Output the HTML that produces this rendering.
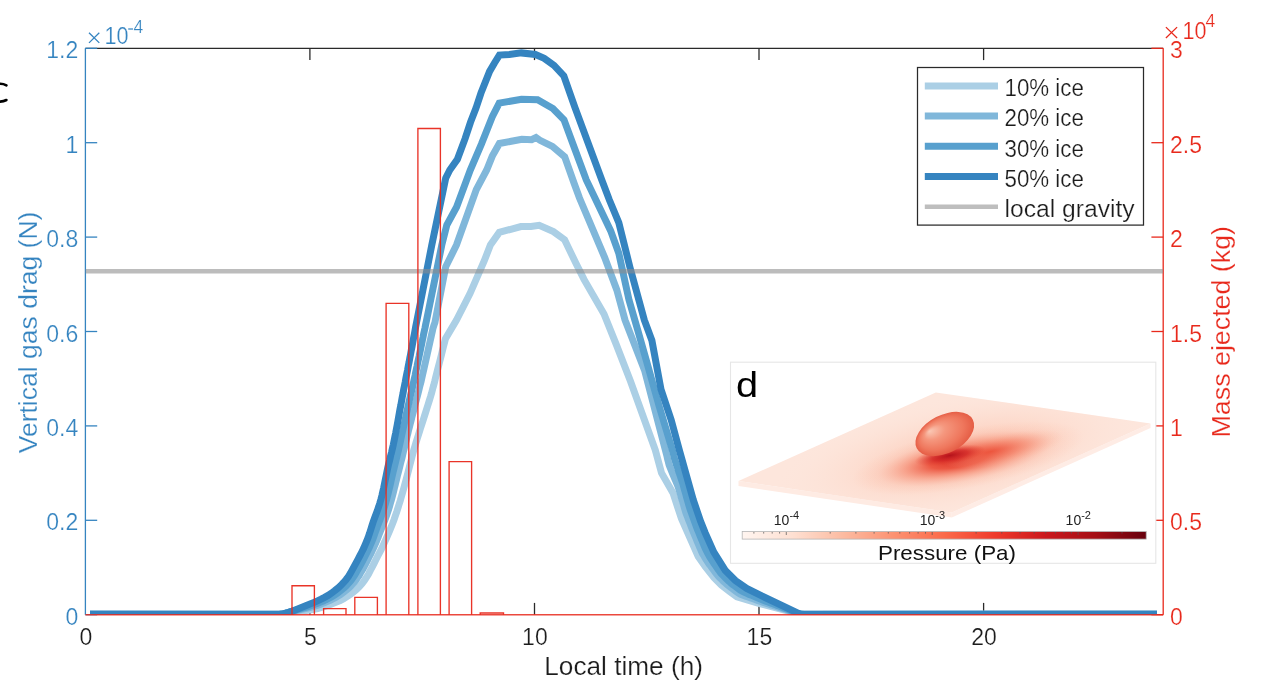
<!DOCTYPE html>
<html><head><meta charset="utf-8"><style>
html,body{margin:0;padding:0;background:#fff;width:1262px;height:688px;overflow:hidden;}
svg text{font-family:"Liberation Sans", sans-serif;}
.t{stroke:#fff;stroke-width:0.22px;}
</style></head><body>
<svg width="1262" height="688" viewBox="0 0 1262 688" style="position:absolute;left:0;top:0;will-change:transform">
<defs><clipPath id="pc"><rect x="85.4" y="48.3" width="1077.8" height="566.4"/></clipPath>
<linearGradient id="cb" x1="0" x2="1" y1="0" y2="0">
<stop offset="0" stop-color="#fff5f0"/><stop offset="0.125" stop-color="#fee0d2"/><stop offset="0.25" stop-color="#fcbba1"/>
<stop offset="0.375" stop-color="#fc9272"/><stop offset="0.5" stop-color="#fb6a4a"/><stop offset="0.625" stop-color="#ef3b2c"/>
<stop offset="0.75" stop-color="#cb181d"/><stop offset="0.875" stop-color="#a50f15"/><stop offset="1" stop-color="#67000d"/></linearGradient>
<radialGradient id="halo" cx="0.5" cy="0.5" r="0.5">
<stop offset="0" stop-color="#fbb59b" stop-opacity="0.7"/><stop offset="0.5" stop-color="#fcc8b4" stop-opacity="0.35"/><stop offset="1" stop-color="#fde6dc" stop-opacity="0"/></radialGradient>
<radialGradient id="shadow" cx="0.5" cy="0.5" r="0.5" fx="0.45" fy="0.5">
<stop offset="0" stop-color="#dc3026" stop-opacity="1"/><stop offset="0.25" stop-color="#ea4b36" stop-opacity="0.9"/>
<stop offset="0.5" stop-color="#f47d62" stop-opacity="0.55"/><stop offset="0.75" stop-color="#f9a890" stop-opacity="0.2"/><stop offset="1" stop-color="#fcbba1" stop-opacity="0"/></radialGradient>
<radialGradient id="ext" cx="0.5" cy="0.5" r="0.5" fx="0.4" fy="0.5">
<stop offset="0" stop-color="#ec5038" stop-opacity="0.75"/><stop offset="0.5" stop-color="#f47d62" stop-opacity="0.4"/><stop offset="1" stop-color="#fbb59b" stop-opacity="0"/></radialGradient>
<radialGradient id="core" cx="0.5" cy="0.5" r="0.5">
<stop offset="0" stop-color="#b5121b" stop-opacity="1"/><stop offset="0.5" stop-color="#cf1f21" stop-opacity="0.7"/><stop offset="1" stop-color="#e3402e" stop-opacity="0"/></radialGradient>
<radialGradient id="ell" cx="0.5" cy="0.5" r="0.5" fx="0.3" fy="0.25">
<stop offset="0" stop-color="#fac8b5"/><stop offset="0.35" stop-color="#f5977e"/><stop offset="0.75" stop-color="#ef775d"/><stop offset="1" stop-color="#e55d45"/></radialGradient>
<clipPath id="planeclip"><polygon points="738.5,481 935.8,392.5 1150.5,423.5 951.8,512.5"/></clipPath>
</defs>
<line x1="85.4" x2="1163.2" y1="48.3" y2="48.3" stroke="#2a2a2a" stroke-width="1.3"/>
<line x1="85.4" x2="85.4" y1="48.3" y2="614.7" stroke="#3584c0" stroke-width="1.3"/>
<line x1="1163.2" x2="1163.2" y1="48.3" y2="614.7" stroke="#e8291c" stroke-width="1.3"/>
<line x1="309.9" x2="309.9" y1="614.7" y2="602.9000000000001" stroke="#2a2a2a" stroke-width="1.3"/>
<line x1="309.9" x2="309.9" y1="48.3" y2="60.099999999999994" stroke="#2a2a2a" stroke-width="1.3"/>
<line x1="534.5" x2="534.5" y1="614.7" y2="602.9000000000001" stroke="#2a2a2a" stroke-width="1.3"/>
<line x1="534.5" x2="534.5" y1="48.3" y2="60.099999999999994" stroke="#2a2a2a" stroke-width="1.3"/>
<line x1="759.0" x2="759.0" y1="614.7" y2="602.9000000000001" stroke="#2a2a2a" stroke-width="1.3"/>
<line x1="759.0" x2="759.0" y1="48.3" y2="60.099999999999994" stroke="#2a2a2a" stroke-width="1.3"/>
<line x1="983.6" x2="983.6" y1="614.7" y2="602.9000000000001" stroke="#2a2a2a" stroke-width="1.3"/>
<line x1="983.6" x2="983.6" y1="48.3" y2="60.099999999999994" stroke="#2a2a2a" stroke-width="1.3"/>
<line x1="85.4" x2="97.2" y1="614.7" y2="614.7" stroke="#3584c0" stroke-width="1.3"/>
<line x1="1151.4" x2="1163.2" y1="614.7" y2="614.7" stroke="#e8291c" stroke-width="1.3"/>
<line x1="85.4" x2="97.2" y1="520.3" y2="520.3" stroke="#3584c0" stroke-width="1.3"/>
<line x1="1151.4" x2="1163.2" y1="520.3" y2="520.3" stroke="#e8291c" stroke-width="1.3"/>
<line x1="85.4" x2="97.2" y1="425.9" y2="425.9" stroke="#3584c0" stroke-width="1.3"/>
<line x1="1151.4" x2="1163.2" y1="425.9" y2="425.9" stroke="#e8291c" stroke-width="1.3"/>
<line x1="85.4" x2="97.2" y1="331.5" y2="331.5" stroke="#3584c0" stroke-width="1.3"/>
<line x1="1151.4" x2="1163.2" y1="331.5" y2="331.5" stroke="#e8291c" stroke-width="1.3"/>
<line x1="85.4" x2="97.2" y1="237.1" y2="237.1" stroke="#3584c0" stroke-width="1.3"/>
<line x1="1151.4" x2="1163.2" y1="237.1" y2="237.1" stroke="#e8291c" stroke-width="1.3"/>
<line x1="85.4" x2="97.2" y1="142.7" y2="142.7" stroke="#3584c0" stroke-width="1.3"/>
<line x1="1151.4" x2="1163.2" y1="142.7" y2="142.7" stroke="#e8291c" stroke-width="1.3"/>
<line x1="85.4" x2="97.2" y1="48.3" y2="48.3" stroke="#3584c0" stroke-width="1.3"/>
<line x1="1151.4" x2="1163.2" y1="48.3" y2="48.3" stroke="#e8291c" stroke-width="1.3"/>
<g clip-path="url(#pc)" fill="none" stroke-linejoin="miter" stroke-linecap="butt">
<polyline points="90.0,614.3 282.0,614.3 293.9,611.2 297.9,611.1 301.9,610.8 305.9,610.5 309.9,610.0 313.8,609.4 317.7,608.5 321.5,607.4 325.3,606.2 329.1,604.9 332.8,603.5 336.5,602.1 340.2,600.5 343.7,598.6 347.0,596.6 350.3,594.3 353.5,591.9 356.6,589.4 359.4,586.6 362.1,583.6 364.4,580.5 366.6,577.2 368.7,573.7 370.5,570.2 372.4,566.7 374.2,563.1 376.0,559.5 377.8,556.0 379.7,552.4 381.5,548.9 383.2,545.2 384.9,541.6 386.5,538.0 388.1,534.3 389.7,530.6 391.2,526.9 392.7,523.2 394.1,519.5 395.4,515.7 396.7,511.9 397.9,508.1 399.1,504.3 400.3,500.5 401.4,496.6 402.5,492.8 403.6,488.9 404.6,485.1 405.7,481.2 406.7,477.4 407.7,473.5 408.7,469.6 409.7,465.7 410.7,461.9 411.7,458.0 412.7,454.1 413.7,450.3 414.9,446.4 416.0,442.6 417.2,438.8 418.4,435.0 419.6,431.1 420.8,427.3 422.1,423.5 423.3,419.7 424.5,415.9 425.7,412.1 426.9,408.3 428.1,404.5 429.3,400.6 430.5,396.8 431.6,393.0 432.6,389.1 433.7,385.3 434.7,381.4 435.6,377.5 436.6,373.6 437.6,369.7 438.6,365.9 439.6,362.0 440.6,358.1 441.6,354.2 442.5,350.4 443.5,346.5 444.5,342.6 445.5,338.7 456.5,320.0 470.0,293.6 484.2,261.0 490.4,245.0 499.3,232.4 520.9,226.5 531.0,226.5 539.2,225.4 553.4,231.6 564.6,239.7 575.8,263.1 584.0,279.4 604.0,314.0 616.3,344.6 630.5,381.2 655.3,450.0 661.5,473.0 673.0,493.0 681.4,518.6 689.6,537.1 698.2,556.5 705.5,567.0 714.0,577.7 721.4,585.0 729.9,591.7 736.9,596.8 759.6,603.6 786.5,610.5 796.0,614.3 1157.0,614.3" stroke="#abcfe5" stroke-width="7"/>
<polyline points="90.0,614.3 279.3,614.3 282.8,614.0 285.9,613.2 288.9,612.4 291.8,611.5 294.9,610.8 298.1,610.2 301.3,609.5 304.5,608.9 307.6,608.2 310.6,607.4 313.6,606.5 316.5,605.6 319.4,604.7 322.1,603.6 324.9,602.5 327.6,601.4 330.2,600.2 332.8,599.0 335.3,597.6 337.7,596.2 340.1,594.8 342.3,593.2 344.5,591.5 346.6,589.8 348.6,588.1 350.6,586.2 352.5,584.2 354.3,582.2 355.9,580.1 357.5,577.8 359.1,575.5 360.5,573.1 361.9,570.7 363.3,568.3 364.6,565.8 365.9,563.3 367.2,560.8 368.5,558.2 369.8,555.7 371.1,553.1 372.3,550.6 373.5,548.0 374.7,545.3 375.9,542.6 377.0,539.9 378.1,537.2 379.1,534.4 380.2,531.7 381.3,528.9 382.4,526.2 383.5,523.5 384.6,520.7 385.6,518.0 386.6,515.2 387.6,512.3 388.6,509.4 389.5,506.5 390.3,503.6 391.2,500.6 392.0,497.6 392.8,494.6 393.6,491.5 394.3,488.4 395.1,485.4 395.8,482.3 396.6,479.2 397.3,476.2 398.1,473.1 398.9,470.1 399.7,467.0 400.4,464.0 401.2,460.9 402.0,457.8 402.7,454.8 403.4,451.7 404.2,448.6 404.9,445.5 405.6,442.4 406.4,439.3 407.1,436.2 407.9,433.2 408.6,430.1 409.4,427.1 410.2,424.0 411.0,421.0 411.7,417.9 412.5,414.9 413.3,411.8 414.1,408.8 414.8,405.7 415.6,402.7 416.4,399.7 417.2,396.6 418.0,393.6 418.8,390.5 419.5,387.5 420.3,384.4 421.1,381.3 421.8,378.3 422.5,375.1 423.2,372.0 423.9,368.9 424.6,365.8 425.3,362.7 426.0,359.5 426.7,356.4 427.4,353.3 428.1,350.2 428.8,347.0 429.5,343.9 430.2,340.8 430.9,337.7 431.6,334.5 432.3,331.4 433.0,328.3 433.9,325.4 434.9,322.6 445.7,266.8 456.5,245.0 476.3,189.6 486.7,170.0 492.3,156.1 499.4,143.5 521.8,139.2 531.6,139.7 536.0,137.5 540.0,140.3 552.4,146.4 564.7,156.9 574.0,183.0 579.5,198.0 604.6,257.3 616.8,289.9 625.0,320.0 644.8,371.0 665.4,450.0 666.4,454.0 667.1,456.7 667.7,459.5 668.4,462.2 669.1,464.9 670.1,467.4 671.0,469.8 672.0,472.2 673.0,474.6 674.0,477.0 675.0,479.4 676.1,481.8 677.1,484.2 678.1,486.6 678.9,489.1 679.7,491.8 680.5,494.4 681.2,497.0 682.0,499.7 682.8,502.3 683.6,504.9 684.3,507.6 685.1,510.2 685.9,512.8 686.8,515.3 687.8,517.7 688.7,520.2 689.7,522.6 690.6,525.1 691.6,527.6 692.5,530.0 693.5,532.4 694.5,534.8 695.5,537.2 696.5,539.7 697.5,542.1 698.5,544.5 699.5,546.9 700.5,549.2 701.5,551.6 702.7,553.9 704.0,556.0 705.2,558.1 706.6,560.2 707.9,562.3 709.3,564.3 710.8,566.2 712.2,568.2 713.7,570.2 715.1,572.1 716.6,574.1 718.1,575.9 719.8,577.7 721.5,579.4 723.2,581.1 725.0,582.7 726.8,584.3 728.6,585.8 730.5,587.3 732.5,588.8 734.4,590.2 736.4,591.7 738.4,593.1 740.5,594.3 743.0,595.2 745.5,596.1 748.1,597.0 750.6,597.9 753.1,598.8 755.6,599.7 758.1,600.6 760.6,601.5 763.2,602.4 765.8,603.2 768.3,604.0 770.9,604.8 773.5,605.6 776.1,606.5 778.7,607.3 781.3,608.1 783.9,608.9 786.4,609.7 788.9,610.7 791.3,611.7 793.7,612.7 801.0,614.3 1157.0,614.3" stroke="#80b7da" stroke-width="7"/>
<polyline points="90.0,614.3 279.3,614.3 282.7,613.9 285.8,613.2 288.8,612.3 291.7,611.4 294.6,610.5 297.7,609.7 300.6,608.9 303.6,608.0 306.5,607.1 309.4,606.2 312.3,605.2 315.1,604.2 317.9,603.2 320.6,602.1 323.3,601.0 325.9,599.7 328.5,598.5 331.0,597.1 333.4,595.7 335.7,594.2 338.0,592.7 340.1,591.0 342.2,589.3 344.3,587.5 346.3,585.7 348.1,583.7 349.9,581.7 351.6,579.6 353.2,577.3 354.7,575.0 356.2,572.6 357.5,570.2 358.9,567.7 360.3,565.3 361.6,562.8 362.9,560.3 364.2,557.8 365.5,555.2 366.8,552.7 368.0,550.1 369.3,547.5 370.4,544.9 371.6,542.2 372.7,539.4 373.7,536.7 374.7,533.8 375.7,531.0 376.7,528.2 377.7,525.4 378.8,522.6 379.9,519.9 380.9,517.1 382.0,514.3 383.0,511.5 383.9,508.6 384.8,505.7 385.7,502.8 386.5,499.8 387.3,496.7 388.1,493.7 388.8,490.6 389.6,487.5 390.3,484.4 391.0,481.2 391.7,478.1 392.4,475.0 393.1,471.9 393.9,468.9 394.6,465.8 395.4,462.7 396.1,459.7 396.9,456.6 397.6,453.5 398.4,450.4 399.1,447.3 399.8,444.2 400.5,441.1 401.1,437.9 401.8,434.8 402.5,431.6 403.2,428.5 403.9,425.3 404.6,422.2 405.3,419.1 405.9,415.9 406.6,412.8 407.3,409.7 408.0,406.6 408.7,403.4 409.4,400.3 410.1,397.2 410.8,394.1 411.6,391.0 412.3,387.9 413.0,384.7 413.7,381.6 414.4,378.5 415.1,375.4 415.7,372.2 416.4,369.1 417.1,365.9 417.7,362.7 418.4,359.6 419.1,356.4 419.7,353.2 420.4,350.1 421.0,346.9 421.7,343.7 422.3,340.6 423.0,337.4 423.6,334.2 424.3,331.1 425.0,327.9 425.6,324.8 426.3,321.6 441.8,245.0 446.8,225.1 456.6,207.0 470.3,170.0 481.4,144.1 492.3,116.8 499.2,103.1 521.5,99.3 537.6,99.8 552.9,108.5 564.0,119.8 574.9,149.3 586.3,180.0 610.7,230.9 618.8,253.3 629.0,300.0 637.7,330.0 646.2,360.0 659.0,405.6 672.3,450.0 673.4,454.0 674.0,456.6 674.7,459.3 675.5,461.8 676.3,464.3 677.2,466.8 678.0,469.3 678.8,471.8 679.7,474.3 680.5,476.8 681.3,479.2 682.2,481.7 683.0,484.2 683.7,486.9 684.4,489.5 685.2,492.1 685.9,494.7 686.6,497.3 687.3,499.9 688.1,502.5 688.8,505.0 689.6,507.6 690.4,510.1 691.3,512.5 692.2,515.0 693.0,517.4 693.9,519.9 694.8,522.3 695.7,524.8 696.6,527.2 697.5,529.6 698.5,532.0 699.4,534.3 700.4,536.7 701.4,539.0 702.4,541.4 703.3,543.7 704.3,546.1 705.3,548.4 706.4,550.6 707.5,552.8 708.7,555.0 709.9,557.2 711.1,559.2 712.5,561.2 713.8,563.2 715.2,565.1 716.5,567.1 717.9,569.1 719.3,571.0 720.7,573.0 722.2,574.7 723.9,576.4 725.5,578.1 727.2,579.7 729.0,581.3 730.7,582.9 732.5,584.4 734.4,585.8 736.3,587.2 738.3,588.6 740.2,590.0 742.2,591.3 744.5,592.4 746.8,593.4 749.2,594.4 751.5,595.3 753.9,596.3 756.2,597.3 758.6,598.3 760.9,599.2 763.3,600.2 765.7,601.1 768.1,602.0 770.5,602.9 772.9,603.8 775.4,604.7 777.8,605.6 780.2,606.6 782.6,607.5 785.0,608.4 787.4,609.3 789.7,610.3 792.0,611.3 794.3,612.3 796.7,613.4 804.0,614.3 1157.0,614.3" stroke="#58a0ce" stroke-width="7"/>
<polyline points="90.0,614.3 272.0,614.5 276.0,614.5 280.0,614.3 283.9,613.6 287.7,612.6 291.5,611.4 295.2,609.9 298.9,608.4 302.6,606.9 306.3,605.4 310.0,603.9 313.8,602.5 317.5,600.9 321.1,599.2 324.6,597.4 328.1,595.4 331.4,593.2 334.6,590.8 337.7,588.3 340.7,585.6 343.4,582.7 346.0,579.7 348.4,576.5 350.5,573.1 352.4,569.6 354.3,566.1 356.2,562.6 358.1,559.1 360.0,555.5 361.8,552.0 363.6,548.4 365.2,544.7 366.8,541.0 368.2,537.3 369.5,533.5 370.7,529.7 371.9,525.9 373.1,522.1 374.5,518.3 375.9,514.6 377.3,510.8 378.6,507.0 379.8,503.2 380.9,499.4 381.9,495.5 382.8,491.6 383.7,487.7 384.5,483.8 385.3,479.8 386.1,475.9 386.9,472.0 387.7,468.1 388.6,464.2 389.6,460.3 390.5,456.4 391.5,452.5 392.4,448.6 393.3,444.7 394.1,440.8 394.9,436.8 395.7,432.9 396.4,429.0 397.2,425.0 397.9,421.1 398.6,417.1 399.3,413.2 400.0,409.2 400.8,405.3 401.5,401.4 402.2,397.4 403.0,393.5 403.7,389.5 404.5,385.6 405.3,381.7 406.0,377.7 406.8,373.8 407.6,369.9 408.3,365.9 409.1,362.0 409.8,358.1 410.6,354.1 411.3,350.2 412.1,346.3 412.8,342.3 413.5,338.4 414.3,334.4 415.0,330.5 415.7,326.6 416.5,322.6 431.8,245.0 445.7,178.2 449.8,170.0 457.4,159.3 465.1,138.6 470.5,122.3 476.0,108.1 480.9,93.3 489.6,71.4 494.5,63.0 499.4,55.1 509.3,54.5 521.3,52.9 535.4,54.5 544.2,58.4 554.0,65.4 563.8,75.8 574.9,107.4 601.8,180.0 609.4,200.0 618.8,222.7 630.0,267.5 644.3,320.0 651.9,340.5 661.0,389.4 671.2,419.9 679.3,450.0 693.3,500.0 700.6,521.3 705.0,532.3 713.8,552.1 725.1,570.2 735.4,580.5 746.7,588.4 762.3,596.2 800.6,614.4 1157.0,614.3" stroke="#3584c0" stroke-width="7"/>
<line x1="85.4" x2="1163.2" y1="271.3" y2="271.3" stroke="#8c8c8c" stroke-opacity="0.58" stroke-width="4.5"/>
</g>
<g fill="none" stroke="#e8291c" stroke-width="1.35" stroke-opacity="0.95">
<path d="M292.0,614.7 V585.7 H314.4 V614.7"/>
<path d="M323.6,614.7 V608.6 H346.0 V614.7"/>
<path d="M354.8,614.7 V597.4 H377.4 V614.7"/>
<path d="M386.1,614.7 V303.3 H408.8 V614.7"/>
<path d="M417.9,614.7 V128.5 H440.4 V614.7"/>
<path d="M449.1,614.7 V461.6 H471.6 V614.7"/>
<path d="M480.2,614.7 V613.0 H503.5 V614.7"/>
</g>
<line x1="85.4" x2="1163.2" y1="614.7" y2="614.7" stroke="#e8291c" stroke-width="1.5" stroke-opacity="0.85"/>
<text class="t" x="85.8" y="644.8" font-size="23" text-anchor="middle" fill="#1c1c1c">0</text>
<text class="t" x="310.3" y="644.8" font-size="23" text-anchor="middle" fill="#1c1c1c">5</text>
<text class="t" x="534.9" y="644.8" font-size="23" text-anchor="middle" fill="#1c1c1c">10</text>
<text class="t" x="759.4" y="644.8" font-size="23" text-anchor="middle" fill="#1c1c1c">15</text>
<text class="t" x="984.0" y="644.8" font-size="23" text-anchor="middle" fill="#1c1c1c">20</text>
<text class="t" x="78.2" y="624.8" font-size="23" text-anchor="end" fill="#3584c0">0</text>
<text class="t" x="78.2" y="530.4" font-size="23" text-anchor="end" fill="#3584c0">0.2</text>
<text class="t" x="78.2" y="436.0" font-size="23" text-anchor="end" fill="#3584c0">0.4</text>
<text class="t" x="78.2" y="341.6" font-size="23" text-anchor="end" fill="#3584c0">0.6</text>
<text class="t" x="78.2" y="247.2" font-size="23" text-anchor="end" fill="#3584c0">0.8</text>
<text class="t" x="78.2" y="152.8" font-size="23" text-anchor="end" fill="#3584c0">1</text>
<text class="t" x="78.2" y="58.4" font-size="23" text-anchor="end" fill="#3584c0">1.2</text>
<text class="t" x="1170" y="624.8" font-size="23" fill="#e8291c">0</text>
<text class="t" x="1170" y="530.4" font-size="23" fill="#e8291c">0.5</text>
<text class="t" x="1170" y="436.0" font-size="23" fill="#e8291c">1</text>
<text class="t" x="1170" y="341.6" font-size="23" fill="#e8291c">1.5</text>
<text class="t" x="1170" y="247.2" font-size="23" fill="#e8291c">2</text>
<text class="t" x="1170" y="152.8" font-size="23" fill="#e8291c">2.5</text>
<text class="t" x="1170" y="58.4" font-size="23" fill="#e8291c">3</text>
<path d="M89,32.7 L99.3,42.9 M99.3,32.7 L89,42.9" stroke="#3584c0" stroke-width="1.3" fill="none"/>
<text class="t" x="104.6" y="44.2" font-size="23" fill="#3584c0" textLength="24" lengthAdjust="spacingAndGlyphs">10</text>
<path d="M128.2,29 H133" stroke="#3584c0" stroke-width="1.2"/>
<text class="t" x="133.6" y="33.4" font-size="17.5" fill="#3584c0">4</text>
<path d="M1165.9,27.1 L1177.1,38 M1177.1,27.1 L1165.9,38" stroke="#e8291c" stroke-width="1.3" fill="none"/>
<text class="t" x="1182.6" y="38.6" font-size="23" fill="#e8291c" textLength="24" lengthAdjust="spacingAndGlyphs">10</text>
<text class="t" x="1205.4" y="27.4" font-size="17.5" fill="#e8291c">4</text>
<text class="t" x="544.3" y="675" font-size="25.8" fill="#1c1c1c" textLength="158.7" lengthAdjust="spacingAndGlyphs">Local time (h)</text>
<text class="t" transform="translate(37.3,453.3) rotate(-90)" x="0" y="0" font-size="25" fill="#3584c0" textLength="241.7" lengthAdjust="spacingAndGlyphs">Vertical gas drag (N)</text>
<text class="t" transform="translate(1230.2,437.5) rotate(-90)" x="0" y="0" font-size="25" fill="#e8291c" textLength="211.5" lengthAdjust="spacingAndGlyphs">Mass ejected (kg)</text>
<path d="M6.4,85.4 A11,8.9 0 1 0 6.4,100" stroke="#000" stroke-width="2.6" fill="none" stroke-linecap="round"/>
<rect x="917.5" y="67.5" width="226" height="157.6" fill="#fff" stroke="#2a2a2a" stroke-width="1.25"/>
<line x1="924.8" x2="998" y1="85.9" y2="85.9" stroke="#abcfe5" stroke-width="7"/>
<text class="t" x="1004.5" y="96.2" font-size="23" fill="#1c1c1c" textLength="79.4" lengthAdjust="spacingAndGlyphs">10% ice</text>
<line x1="924.8" x2="998" y1="116.1" y2="116.1" stroke="#80b7da" stroke-width="7"/>
<text class="t" x="1004.5" y="126.3" font-size="23" fill="#1c1c1c" textLength="79.4" lengthAdjust="spacingAndGlyphs">20% ice</text>
<line x1="924.8" x2="998" y1="146.3" y2="146.3" stroke="#58a0ce" stroke-width="7"/>
<text class="t" x="1004.5" y="156.5" font-size="23" fill="#1c1c1c" textLength="79.4" lengthAdjust="spacingAndGlyphs">30% ice</text>
<line x1="924.8" x2="998" y1="176.5" y2="176.5" stroke="#3584c0" stroke-width="7"/>
<text class="t" x="1004.5" y="186.6" font-size="23" fill="#1c1c1c" textLength="79.4" lengthAdjust="spacingAndGlyphs">50% ice</text>
<line x1="924.8" x2="998" y1="206.7" y2="206.7" stroke="#bebebe" stroke-width="4.6"/>
<text class="t" x="1004.5" y="216.8" font-size="23" fill="#1c1c1c" textLength="130.2" lengthAdjust="spacingAndGlyphs">local gravity</text>
<rect x="730.5" y="362.2" width="425.3" height="201.1" fill="#fff" stroke="#e6e6e6" stroke-width="1.1"/>
<text x="736" y="397.4" font-size="35.5" fill="#000" transform="translate(736,0) scale(1.12,1) translate(-736,0)">d</text>
<polygon points="738.5,481 951.8,512.5 951.8,517.5 738.5,486" fill="#feebe3"/>
<polygon points="951.8,512.5 1150.5,423.5 1150.5,428 951.8,517.5" fill="#feece5"/>
<polygon points="738.5,481 935.8,392.5 1150.5,423.5 951.8,512.5" fill="#fde6dc"/>
<g clip-path="url(#planeclip)">
<ellipse cx="960" cy="455" rx="190" ry="60" transform="rotate(-11 960 455)" fill="url(#halo)"/>
<ellipse cx="968" cy="458" rx="118" ry="30" transform="rotate(-11 968 458)" fill="url(#shadow)"/>
<ellipse cx="1003" cy="449" rx="62" ry="15" transform="rotate(-12 1003 449)" fill="url(#ext)"/>
<ellipse cx="950" cy="455.5" rx="36" ry="9" transform="rotate(-10 950 455.5)" fill="url(#core)"/>
</g>
<ellipse cx="944.8" cy="434" rx="31.5" ry="19" transform="rotate(-27 944.8 434)" fill="url(#ell)"/>
<rect x="742.2" y="531.6" width="404" height="7.5" fill="url(#cb)" stroke="#b5b5b5" stroke-width="0.8"/>
<line x1="753.9" x2="753.9" y1="532" y2="533.6" stroke="#555" stroke-width="0.7"/>
<line x1="763.7" x2="763.7" y1="532" y2="533.6" stroke="#555" stroke-width="0.7"/>
<line x1="772.2" x2="772.2" y1="532" y2="533.6" stroke="#555" stroke-width="0.7"/>
<line x1="779.6" x2="779.6" y1="532" y2="533.6" stroke="#555" stroke-width="0.7"/>
<line x1="786.3" x2="786.3" y1="532" y2="535" stroke="#555" stroke-width="0.7"/>
<line x1="830.2" x2="830.2" y1="532" y2="533.6" stroke="#555" stroke-width="0.7"/>
<line x1="855.9" x2="855.9" y1="532" y2="533.6" stroke="#555" stroke-width="0.7"/>
<line x1="874.1" x2="874.1" y1="532" y2="533.6" stroke="#555" stroke-width="0.7"/>
<line x1="888.3" x2="888.3" y1="532" y2="533.6" stroke="#555" stroke-width="0.7"/>
<line x1="899.8" x2="899.8" y1="532" y2="533.6" stroke="#555" stroke-width="0.7"/>
<line x1="909.6" x2="909.6" y1="532" y2="533.6" stroke="#555" stroke-width="0.7"/>
<line x1="918.1" x2="918.1" y1="532" y2="533.6" stroke="#555" stroke-width="0.7"/>
<line x1="925.5" x2="925.5" y1="532" y2="533.6" stroke="#555" stroke-width="0.7"/>
<line x1="932.2" x2="932.2" y1="532" y2="535" stroke="#555" stroke-width="0.7"/>
<line x1="976.1" x2="976.1" y1="532" y2="533.6" stroke="#555" stroke-width="0.7"/>
<line x1="1001.8" x2="1001.8" y1="532" y2="533.6" stroke="#555" stroke-width="0.7"/>
<line x1="1020.0" x2="1020.0" y1="532" y2="533.6" stroke="#555" stroke-width="0.7"/>
<line x1="1034.2" x2="1034.2" y1="532" y2="533.6" stroke="#555" stroke-width="0.7"/>
<line x1="1045.7" x2="1045.7" y1="532" y2="533.6" stroke="#555" stroke-width="0.7"/>
<line x1="1055.5" x2="1055.5" y1="532" y2="533.6" stroke="#555" stroke-width="0.7"/>
<line x1="1064.0" x2="1064.0" y1="532" y2="533.6" stroke="#555" stroke-width="0.7"/>
<line x1="1071.4" x2="1071.4" y1="532" y2="533.6" stroke="#555" stroke-width="0.7"/>
<line x1="1078.1" x2="1078.1" y1="532" y2="535" stroke="#555" stroke-width="0.7"/>
<line x1="1122.0" x2="1122.0" y1="532" y2="533.6" stroke="#555" stroke-width="0.7"/>
<text x="773.8" y="524.8" font-size="14" fill="#222">10<tspan dy="-6" font-size="11">-4</tspan></text>
<text x="919.7" y="524.8" font-size="14" fill="#222">10<tspan dy="-6" font-size="11">-3</tspan></text>
<text x="1065.6" y="524.8" font-size="14" fill="#222">10<tspan dy="-6" font-size="11">-2</tspan></text>
<text x="878" y="560.4" font-size="21" fill="#111" textLength="138" lengthAdjust="spacingAndGlyphs">Pressure (Pa)</text>
</svg>
</body></html>
